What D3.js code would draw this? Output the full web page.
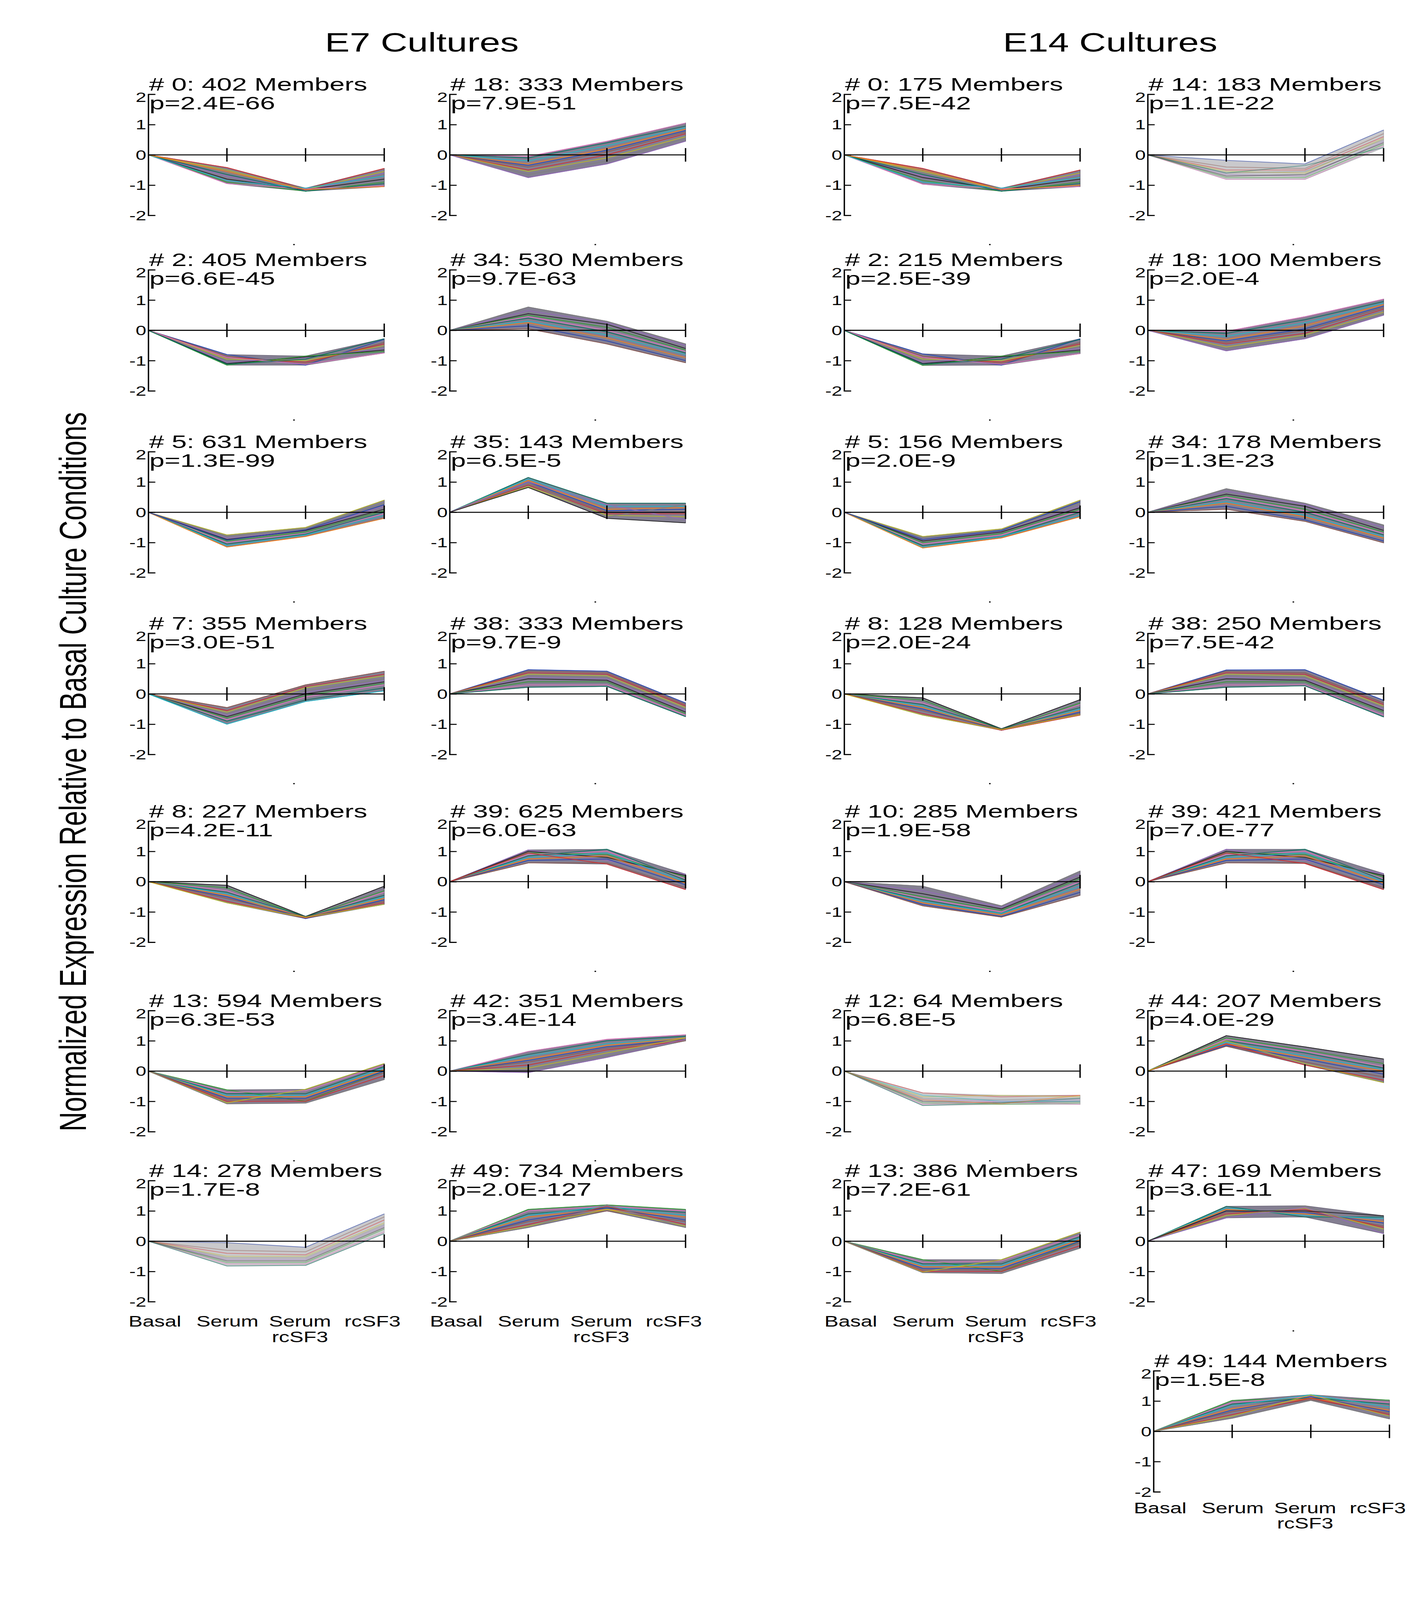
<!DOCTYPE html>
<html>
<head>
<meta charset="utf-8">
<script src="https://cdn.jsdelivr.net/npm/d3@7"></script>
<style>
  html, body { margin: 0; padding: 0; background: #fff; overflow: hidden; }
  svg { display: block; }
</style>
</head>
<body>
<svg id="fig" viewBox="0 0 3648 5672" preserveAspectRatio="none"></svg>
<script>
"use strict";

// conditions along the x axis, basal is the reference (always 0)
var CONDITIONS = ["Basal", "Serum", "Serum rcSF3", "rcSF3"];
var CONDITION_LABELS = [["Basal"], ["Serum"], ["Serum", "rcSF3"], ["rcSF3"]];
var Y_TICKS = [2, 1, 0, -1, -2];
var BASAL = 0;
var GROUP_TITLES = ["E7 Cultures", "E14 Cultures"];
var Y_TITLE = "Normalized Expression Relative to Basal Culture Conditions";

// each profile: cluster id, member count, p value, and a sample of member
// profiles as [Serum, Serum+rcSF3, rcSF3]
var e7Profiles = [
    {id: 0, members: 402, p: "2.4E-66", lines: [
        [-0.42, -1.12, -0.45], [-0.5, -1.15, -0.55], [-0.6, -1.1, -0.65], [-0.7, -1.18, -0.6],
        [-0.8, -1.15, -0.8], [-0.9, -1.2, -0.9], [-0.95, -1.12, -1.02], [-0.65, -1.2, -0.95],
        [-0.85, -1.1, -0.7], [-0.55, -1.15, -1.05]]},
    {id: 2, members: 405, p: "6.6E-45", lines: [
        [-0.8, -1.15, -0.3], [-0.85, -1.1, -0.4], [-0.9, -1.05, -0.45], [-0.95, -1.0, -0.5],
        [-1.0, -0.95, -0.55], [-1.05, -0.9, -0.6], [-1.1, -0.88, -0.65], [-1.15, -0.85, -0.7],
        [-0.9, -1.12, -0.75], [-1.12, -0.95, -0.28]]},
    {id: 5, members: 631, p: "1.3E-99", lines: [
        [-0.75, -0.5, 0.4], [-0.8, -0.55, 0.3], [-0.85, -0.6, 0.2], [-0.9, -0.6, 0.1],
        [-0.95, -0.65, 0.05], [-1.0, -0.7, -0.05], [-1.05, -0.72, 0.0], [-1.1, -0.75, -0.1],
        [-1.15, -0.8, -0.2], [-0.92, -0.58, 0.25]]},
    {id: 7, members: 355, p: "3.0E-51", lines: [
        [-0.45, 0.3, 0.75], [-0.55, 0.25, 0.65], [-0.6, 0.2, 0.6], [-0.65, 0.1, 0.5],
        [-0.7, 0.05, 0.45], [-0.75, 0.0, 0.4], [-0.8, -0.05, 0.35], [-0.85, -0.1, 0.3],
        [-0.9, -0.2, 0.2], [-1.0, -0.25, 0.1]]},
    {id: 8, members: 227, p: "4.2E-11", lines: [
        [-0.12, -1.15, -0.15], [-0.2, -1.18, -0.3], [-0.3, -1.2, -0.35], [-0.35, -1.15, -0.45],
        [-0.4, -1.2, -0.5], [-0.45, -1.18, -0.55], [-0.5, -1.22, -0.6], [-0.55, -1.16, -0.65],
        [-0.65, -1.2, -0.7], [-0.7, -1.18, -0.75]]},
    {id: 13, members: 594, p: "6.3E-53", lines: [
        [-0.62, -1.0, 0.0], [-0.7, -0.65, 0.2], [-0.75, -0.75, 0.15], [-0.8, -0.8, 0.1],
        [-0.85, -0.85, 0.05], [-0.9, -0.9, 0.0], [-0.95, -0.95, -0.05], [-1.0, -1.0, -0.15],
        [-1.05, -0.6, 0.25], [-1.08, -1.06, -0.28]]},
    {id: 14, members: 278, p: "1.7E-8", lines: [
        [-0.05, -0.2, 0.9], [-0.3, -0.35, 0.8], [-0.4, -0.45, 0.7], [-0.5, -0.5, 0.6],
        [-0.55, -0.55, 0.55], [-0.6, -0.6, 0.5], [-0.65, -0.65, 0.45], [-0.7, -0.7, 0.4],
        [-0.75, -0.75, 0.3], [-0.82, -0.8, 0.25]]},
    {id: 18, members: 333, p: "7.9E-51", lines: [
        [-0.05, 0.45, 1.05], [-0.1, 0.4, 0.95], [-0.2, 0.3, 0.9], [-0.3, 0.2, 0.85],
        [-0.35, 0.15, 0.8], [-0.4, 0.1, 0.75], [-0.5, 0.0, 0.7], [-0.55, -0.1, 0.6],
        [-0.65, -0.2, 0.55], [-0.75, -0.3, 0.45]]},
    {id: 34, members: 530, p: "9.7E-63", lines: [
        [0.77, 0.3, -0.45], [0.65, 0.25, -0.5], [0.55, 0.2, -0.6], [0.5, 0.1, -0.65],
        [0.45, 0.0, -0.7], [0.4, -0.05, -0.75], [0.3, -0.15, -0.8], [0.25, -0.25, -0.9],
        [0.15, -0.35, -1.0], [0.05, -0.45, -1.07]]},
    {id: 35, members: 143, p: "6.5E-5", lines: [
        [1.15, 0.3, 0.3], [1.1, 0.2, 0.2], [1.05, 0.1, 0.15], [1.0, 0.05, 0.1],
        [0.95, 0.0, 0.0], [0.9, -0.05, -0.05], [0.85, -0.1, -0.15], [0.95, -0.15, 0.25],
        [1.0, 0.25, -0.25], [0.82, -0.2, -0.35]]},
    {id: 38, members: 333, p: "9.7E-9", lines: [
        [0.8, 0.75, -0.3], [0.75, 0.7, -0.35], [0.7, 0.65, -0.4], [0.65, 0.6, -0.45],
        [0.6, 0.55, -0.5], [0.55, 0.5, -0.55], [0.5, 0.45, -0.6], [0.4, 0.4, -0.65],
        [0.3, 0.3, -0.7], [0.22, 0.25, -0.75]]},
    {id: 39, members: 625, p: "6.0E-63", lines: [
        [1.05, 0.7, 0.25], [1.0, 0.8, 0.2], [0.95, 0.9, 0.15], [0.9, 1.0, 0.1],
        [0.85, 1.07, 0.05], [0.8, 0.95, 0.0], [0.75, 0.85, -0.05], [0.7, 0.75, -0.1],
        [0.62, 0.62, -0.2], [0.95, 0.58, -0.26]]},
    {id: 42, members: 351, p: "3.4E-14", lines: [
        [0.65, 1.05, 1.2], [0.55, 1.0, 1.15], [0.5, 0.9, 1.1], [0.4, 0.85, 1.1],
        [0.35, 0.8, 1.05], [0.3, 0.75, 1.05], [0.2, 0.7, 1.0], [0.1, 0.6, 1.1],
        [0.05, 0.5, 1.0], [-0.05, 0.45, 1.05]]},
    {id: 49, members: 734, p: "2.0E-127", lines: [
        [1.05, 1.2, 1.05], [1.0, 1.15, 1.0], [0.9, 1.1, 0.95], [0.85, 1.15, 0.85],
        [0.8, 1.05, 0.8], [0.7, 1.1, 0.7], [0.65, 1.0, 0.65], [0.55, 1.15, 0.55],
        [0.5, 1.05, 0.5], [0.45, 1.2, 0.45]]}
];

var e14Profiles = [
    {id: 0, members: 175, p: "7.5E-42", lines: [
        [-0.45, -1.12, -0.5], [-0.55, -1.15, -0.6], [-0.6, -1.1, -0.7], [-0.7, -1.18, -0.65],
        [-0.75, -1.15, -0.8], [-0.85, -1.2, -0.9], [-0.97, -1.12, -1.05], [-0.65, -1.2, -0.95],
        [-0.9, -1.1, -0.75], [-0.5, -1.15, -1.0]]},
    {id: 2, members: 215, p: "2.5E-39", lines: [
        [-0.78, -1.15, -0.28], [-0.85, -1.1, -0.4], [-0.9, -1.05, -0.45], [-0.95, -1.0, -0.5],
        [-1.0, -0.95, -0.55], [-1.05, -0.9, -0.6], [-1.1, -0.88, -0.65], [-1.16, -0.85, -0.7],
        [-0.9, -1.12, -0.77], [-1.12, -0.95, -0.3]]},
    {id: 5, members: 156, p: "2.0E-9", lines: [
        [-0.8, -0.55, 0.4], [-0.85, -0.6, 0.3], [-0.9, -0.65, 0.2], [-0.95, -0.65, 0.15],
        [-1.0, -0.7, 0.1], [-1.05, -0.75, 0.05], [-1.1, -0.8, 0.0], [-1.15, -0.8, -0.1],
        [-1.18, -0.85, -0.15], [-0.9, -0.6, 0.35]]},
    {id: 8, members: 128, p: "2.0E-24", lines: [
        [-0.13, -1.15, -0.19], [-0.2, -1.18, -0.3], [-0.3, -1.2, -0.35], [-0.35, -1.15, -0.45],
        [-0.4, -1.2, -0.5], [-0.45, -1.18, -0.55], [-0.5, -1.2, -0.6], [-0.55, -1.16, -0.65],
        [-0.65, -1.2, -0.7], [-0.7, -1.18, -0.68]]},
    {id: 10, members: 285, p: "1.9E-58", lines: [
        [-0.15, -0.8, 0.35], [-0.3, -0.85, 0.25], [-0.4, -0.9, 0.15], [-0.5, -0.95, 0.1],
        [-0.55, -1.0, 0.0], [-0.6, -1.05, -0.05], [-0.65, -1.05, -0.15], [-0.7, -1.1, -0.25],
        [-0.75, -1.15, -0.35], [-0.8, -1.17, -0.45]]},
    {id: 12, members: 64, p: "6.8E-5", lines: [
        [-0.72, -0.85, -0.8], [-0.85, -0.8, -0.85], [-0.9, -0.95, -0.9], [-0.95, -1.0, -0.95],
        [-1.0, -1.05, -1.0], [-1.05, -1.1, -1.05], [-1.1, -1.0, -1.1], [-1.14, -1.05, -0.9],
        [-0.8, -1.0, -1.0], [-0.95, -1.08, -0.8]]},
    {id: 13, members: 386, p: "7.2E-61", lines: [
        [-0.61, -1.0, 0.0], [-0.7, -0.65, 0.2], [-0.75, -0.75, 0.15], [-0.8, -0.8, 0.1],
        [-0.85, -0.85, 0.05], [-0.9, -0.9, 0.0], [-0.95, -0.95, -0.05], [-1.0, -1.0, -0.15],
        [-1.02, -0.61, 0.3], [-1.04, -1.07, -0.23]]},
    {id: 14, members: 183, p: "1.1E-22", lines: [
        [-0.18, -0.3, 0.82], [-0.4, -0.45, 0.7], [-0.5, -0.5, 0.6], [-0.55, -0.6, 0.55],
        [-0.6, -0.55, 0.5], [-0.65, -0.7, 0.45], [-0.7, -0.65, 0.4], [-0.75, -0.75, 0.35],
        [-0.81, -0.81, 0.3], [-0.6, -0.35, 0.24]]},
    {id: 18, members: 100, p: "2.0E-4", lines: [
        [-0.03, 0.45, 1.03], [-0.1, 0.35, 0.95], [-0.2, 0.25, 0.9], [-0.3, 0.15, 0.85],
        [-0.35, 0.05, 0.8], [-0.4, 0.0, 0.75], [-0.45, -0.1, 0.7], [-0.55, -0.15, 0.6],
        [-0.6, -0.2, 0.55], [-0.68, -0.28, 0.5]]},
    {id: 34, members: 178, p: "1.3E-23", lines: [
        [0.78, 0.3, -0.42], [0.7, 0.25, -0.5], [0.6, 0.2, -0.6], [0.55, 0.1, -0.65],
        [0.5, 0.05, -0.7], [0.45, 0.0, -0.75], [0.35, -0.1, -0.8], [0.3, -0.15, -0.85],
        [0.2, -0.25, -0.95], [0.1, -0.3, -1.01]]},
    {id: 38, members: 250, p: "7.5E-42", lines: [
        [0.79, 0.8, -0.21], [0.75, 0.7, -0.3], [0.7, 0.65, -0.35], [0.65, 0.6, -0.4],
        [0.6, 0.55, -0.45], [0.55, 0.5, -0.5], [0.5, 0.45, -0.55], [0.4, 0.4, -0.6],
        [0.3, 0.3, -0.7], [0.22, 0.27, -0.76]]},
    {id: 39, members: 421, p: "7.0E-77", lines: [
        [1.07, 0.7, 0.27], [1.0, 0.8, 0.2], [0.95, 0.9, 0.15], [0.9, 1.0, 0.1],
        [0.85, 1.07, 0.05], [0.8, 0.95, 0.0], [0.75, 0.85, -0.05], [0.7, 0.75, -0.1],
        [0.62, 0.62, -0.2], [0.95, 0.6, -0.26]]},
    {id: 44, members: 207, p: "4.0E-29", lines: [
        [1.17, 0.8, 0.4], [1.1, 0.7, 0.25], [1.05, 0.65, 0.15], [1.0, 0.6, 0.1],
        [0.95, 0.5, 0.05], [0.9, 0.45, 0.0], [0.85, 0.4, -0.1], [0.82, 0.3, -0.2],
        [0.9, 0.2, -0.3], [1.0, 0.25, -0.38]]},
    {id: 47, members: 169, p: "3.6E-11", lines: [
        [1.15, 0.8, 0.8], [1.1, 0.85, 0.75], [1.05, 0.9, 0.65], [1.0, 0.95, 0.6],
        [0.95, 1.0, 0.5], [0.9, 1.05, 0.45], [0.85, 1.1, 0.4], [0.8, 1.17, 0.3],
        [0.77, 1.12, 0.25], [1.0, 1.0, 0.84]]},
    {id: 49, members: 144, p: "1.5E-8", lines: [
        [1.02, 1.1, 1.03], [0.95, 1.15, 0.95], [0.9, 1.1, 0.9], [0.85, 1.21, 0.8],
        [0.75, 1.1, 0.7], [0.7, 1.15, 0.65], [0.65, 1.05, 0.6], [0.55, 1.1, 0.55],
        [0.5, 1.2, 0.5], [0.43, 1.02, 0.41]]}
];


var W = 3648, H = 5672,
    svg = d3.select("#fig"),
    FONT = "'Liberation Sans', Arial, Helvetica, sans-serif",
    lay = {
        colX: [379.6, 1151, 2161, 2938],
        rowZero: [549, 1171, 1816, 2460, 3125.5, 3797, 4400, 5074],
        lastX: 2953,       //lone panel at the bottom of the E14 column
        w: 604,
        half: 214.6,       //pixels from 0 to +-2
        titleDy: -227.6,
        pDy: -161.2
    },
    palette = ["#d62728", "#2ca02c", "#1f3fb4", "#9467bd", "#17becf", "#bcbd22",
               "#e377c2", "#8c564b", "#1a1a1a", "#ff7f0e", "#7f7f7f", "#006d5b"],
    lightIds = {e7_14: true, e14_14: true, e14_12: true};

//the window we get can be shorter than the figure: fill it with the whole frame
svg.attr("width", window.innerWidth || W)
   .attr("height", window.innerHeight || H);

svg.append("rect").attr("width", W).attr("height", H).attr("fill", "#fff");


function drawPanel (prof, key, x0, zero, showLabels, labelDy, showDot) {
    var g = svg.append("g").attr("class", "panel"),
        x = d3.scalePoint().domain(CONDITIONS).range([x0, x0 + lay.w]),
        y = d3.scaleLinear().domain([-2, 2]).range([zero + lay.half, zero - lay.half]),
        series = prof.lines.map(function (l) { return [BASAL].concat(l); }),
        line, area, yAxis, light = lightIds[key];

    //envelope of the sampled members, under the member lines
    area = d3.area()
        .x(function (d, i) { return x(CONDITIONS[i]); })
        .y0(function (d, i) { return y(d3.min(series, function (s) { return s[i]; })); })
        .y1(function (d, i) { return y(d3.max(series, function (s) { return s[i]; })); });
    g.append("path")
        .attr("d", area(CONDITIONS))
        .attr("fill", light ? "#c9c9cc" : "#847f92")
        .attr("stroke", light ? "#b8b8bc" : "#6d6879")
        .attr("stroke-width", 2);

    line = d3.line()
        .x(function (d, i) { return x(CONDITIONS[i]); })
        .y(function (d) { return y(d); });
    g.selectAll("path.member").data(series).enter().append("path")
        .attr("class", "member")
        .attr("d", line)
        .attr("fill", "none")
        .attr("stroke", function (d, i) { return palette[(i * 5 + prof.id) % palette.length]; })
        .attr("stroke-width", 2.8)
        .attr("opacity", light ? 0.45 : 0.85);

    //y axis: bracket style with inward ticks
    yAxis = d3.axisLeft(y).tickValues(Y_TICKS).tickSize(-18).tickPadding(5)
        .tickFormat(d3.format("d"));
    g.append("g")
        .attr("transform", "translate(" + x0 + ",0)")
        .call(yAxis)
        .call(function (ax) {
            ax.select(".domain").attr("stroke", "#000").attr("stroke-width", 3.5);
            ax.selectAll(".tick line").attr("stroke", "#000").attr("stroke-width", 3.5);
            ax.selectAll(".tick text")
                .attr("font-family", FONT).attr("font-size", 49).attr("fill", "#000")
                .attr("dy", function (d) { return d === 2 ? "0.55em" : "0.34em"; })
                .text(function (d) { return d < 0 ? "-" + Math.abs(d) : d; });
        });

    //x axis along 0 with ticks crossing it
    g.append("line")
        .attr("x1", x0).attr("x2", x0 + lay.w)
        .attr("y1", y(0)).attr("y2", y(0))
        .attr("stroke", "#000").attr("stroke-width", 3.5);
    g.selectAll("line.xtick").data(CONDITIONS.slice(1)).enter().append("line")
        .attr("class", "xtick")
        .attr("x1", function (d) { return x(d); }).attr("x2", function (d) { return x(d); })
        .attr("y1", y(0) - 24).attr("y2", y(0) + 24)
        .attr("stroke", "#000").attr("stroke-width", 3.5);

    //cluster header
    g.append("text")
        .attr("transform", "translate(" + (x0 + 2) + "," + (zero + lay.titleDy) + ") scale(1.1,1)")
        .attr("font-family", FONT).attr("font-size", 63)
        .text("# " + prof.id + ": " + prof.members + " Members");
    g.append("text")
        .attr("transform", "translate(" + (x0 + 3) + "," + (zero + lay.pDy) + ") scale(1.1,1)")
        .attr("font-family", FONT).attr("font-size", 63)
        .text("p=" + prof.p);

    if(showLabels) {
        var lx = d3.scalePoint().domain(CONDITIONS).range([x0 + 17, x0 + 574]);
        CONDITIONS.forEach(function (c, i) {
            var t = g.append("text")
                .attr("x", lx(c)).attr("y", zero + labelDy)
                .attr("text-anchor", "middle")
                .attr("font-family", FONT).attr("font-size", 54);
            CONDITION_LABELS[i].forEach(function (s, j) {
                t.append("tspan").attr("x", lx(c)).attr("dy", j ? 55 : 0).text(s); });
        });
    }
    if(showDot) {  //stray speck under each pasted panel
        g.append("rect").attr("x", x0 + 371).attr("y", zero + 316)
            .attr("width", 4).attr("height", 4).attr("fill", "#000");
    }
}


e7Profiles.forEach(function (p, i) {
    var col = Math.floor(i / 7), row = i % 7;
    drawPanel(p, "e7_" + p.id, lay.colX[col], lay.rowZero[row], row === 6, 303, row < 6);
});
e14Profiles.forEach(function (p, i) {
    var col, row, x0;
    if(i < 7) { col = 2; row = i; x0 = lay.colX[2]; }
    else if(i < 14) { col = 3; row = i - 7; x0 = lay.colX[3]; }
    else { col = 3; row = 7; x0 = lay.lastX; }
    drawPanel(p, "e14_" + p.id, x0, lay.rowZero[row],
              (col === 2 && row === 6) || row === 7,
              row === 7 ? 290 : 303,
              row < 6 || (col === 3 && row === 6));
});


//group titles and the shared y title
svg.selectAll("text.group").data(GROUP_TITLES).enter().append("text")
    .attr("class", "group")
    .attr("x", function (d, i) { return [1080, 2842][i]; })
    .attr("y", 183)
    .attr("text-anchor", "middle")
    .attr("font-family", FONT).attr("font-size", 95)
    .text(function (d) { return d; });

svg.append("text")
    .attr("transform", "translate(220,2736) rotate(-90)")
    .attr("text-anchor", "middle")
    .attr("font-family", FONT).attr("font-size", 96)
    .text(Y_TITLE);
</script>
</body>
</html>
